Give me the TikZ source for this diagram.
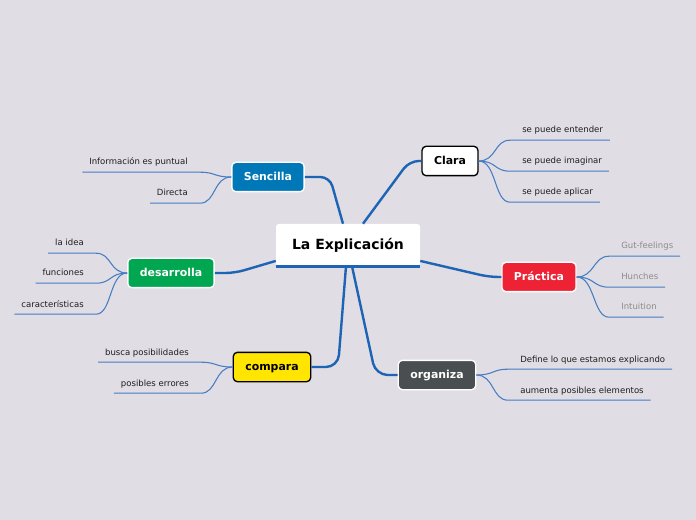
\documentclass[tikz,border=0pt]{standalone}
\usepackage{fontspec}
\setmainfont{DejaVu Sans}
\definecolor{canvas}{RGB}{224,221,228}
\definecolor{linkblue}{RGB}{30,100,180}
\definecolor{twigblue}{RGB}{70,125,195}
\definecolor{leaftext}{RGB}{30,30,30}
\definecolor{hinttext}{RGB}{140,140,140}
\definecolor{sencillablue}{RGB}{0,119,182}
\definecolor{desarrollagreen}{RGB}{0,166,80}
\definecolor{comparayellow}{RGB}{255,229,0}
\definecolor{organizagray}{RGB}{73,79,80}
\definecolor{practicared}{RGB}{237,34,52}

\begin{document}
\begin{tikzpicture}[x=0.75pt,y=-0.75pt,
  trunk/.style={draw=linkblue,line width=1.8pt,rounded corners=7pt},
  twig/.style={draw=twigblue,line width=0.8pt},
  topic/.style={rectangle,rounded corners=3pt,draw=white,line width=1pt,text=white,
    font=\fontsize{8.2}{10}\selectfont\bfseries,inner xsep=9pt,minimum height=22pt,
    text height=5pt,text depth=0pt},
  leaf/.style={inner xsep=0pt,inner ysep=3.2pt,text depth=2pt,
    font=\fontsize{6.4}{8}\selectfont,text=leaftext}]
    % Background
\fill[canvas] (0,0) rectangle (696,520);
    % Central topic
\node[rectangle,rounded corners=2pt,fill=white,minimum width=108pt,minimum height=31.5pt,
  font=\fontsize{10.5}{12}\selectfont\bfseries] (main) at (348,245) {La Explicación};
\draw[trunk,line width=2.2pt,rounded corners=0pt] (main.south west) -- (main.south east);
    % Main branches
\node[topic,fill=white,draw=black,text=black] (clara) at (450,161) {Clara};
\node[topic,fill=sencillablue] (sencilla) at (268,177) {Sencilla};
\node[topic,fill=desarrollagreen] (desarrolla) at (171,273) {desarrolla};
\node[topic,fill=comparayellow,draw=black,text=black] (compara) at (272,367) {compara};
\node[topic,fill=organizagray] (organiza) at (437,375) {organiza};
\node[topic,fill=practicared] (practica) at (539,277) {Práctica};
\draw[trunk] ([xshift=11.25pt]main.north) -- ([xshift=-9pt]clara.west) -- (clara.west);
\draw[trunk] ([xshift=-3.75pt]main.north) -- ([xshift=18.75pt]sencilla.east) -- (sencilla.east);
\draw[trunk] ([yshift=4pt]main.south west) -- ([xshift=15pt]desarrolla.east) -- (desarrolla.east);
\draw[trunk,rounded corners=9pt] ([xshift=-1.5pt]main.south) -- ([xshift=20pt]compara.east) -- (compara.east);
\draw[trunk,rounded corners=9pt] ([xshift=3pt]main.south) -- ([xshift=-16.5pt]organiza.west) -- (organiza.west);
\draw[trunk] ([yshift=4pt]main.south east) -- ([xshift=-9pt]practica.west) -- (practica.west);
    % Leaves on the right
\node[leaf,anchor=base west] (cla1) at (522,133) {se puede entender};
\node[leaf,anchor=base west] (cla2) at (522,164) {se puede imaginar};
\node[leaf,anchor=base west] (cla3) at (522,195) {se puede aplicar};
\node[leaf,anchor=base west,text=hinttext] (pra1) at (621,249) {Gut-feelings};
\node[leaf,anchor=base west,text=hinttext] (pra2) at (621,280) {Hunches};
\node[leaf,anchor=base west,text=hinttext] (pra3) at (621,310) {Intuition};
\node[leaf,anchor=base west] (org1) at (520,362) {Define lo que estamos explicando};
\node[leaf,anchor=base west] (org2) at (520,393) {aumenta posibles elementos};
\foreach \from/\to in {clara/cla1,clara/cla2,clara/cla3,practica/pra1,practica/pra2,practica/pra3,organiza/org1,organiza/org2}
  \draw[twig] (\from.east) .. controls +(18,0) and +(-16,0) .. ([xshift=-9pt]\to.south west) -- ([xshift=5pt]\to.south east);
    % Leaves on the left
\node[leaf,anchor=base east] (sen1) at (188,165) {Información es puntual};
\node[leaf,anchor=base east] (sen2) at (188,196) {Directa};
\node[leaf,anchor=base east] (des1) at (84,246) {la idea};
\node[leaf,anchor=base east] (des2) at (84,276) {funciones};
\node[leaf,anchor=base east] (des3) at (84,307) {características};
\node[leaf,anchor=base east] (com1) at (189,355) {busca posibilidades};
\node[leaf,anchor=base east] (com2) at (189,386) {posibles errores};
\foreach \from/\to in {sencilla/sen1,sencilla/sen2,desarrolla/des1,desarrolla/des2,desarrolla/des3,compara/com1,compara/com2}
  \draw[twig] (\from.west) .. controls +(-18,0) and +(16,0) .. ([xshift=9pt]\to.south east) -- ([xshift=-5pt]\to.south west);
\end{tikzpicture}
\end{document}
